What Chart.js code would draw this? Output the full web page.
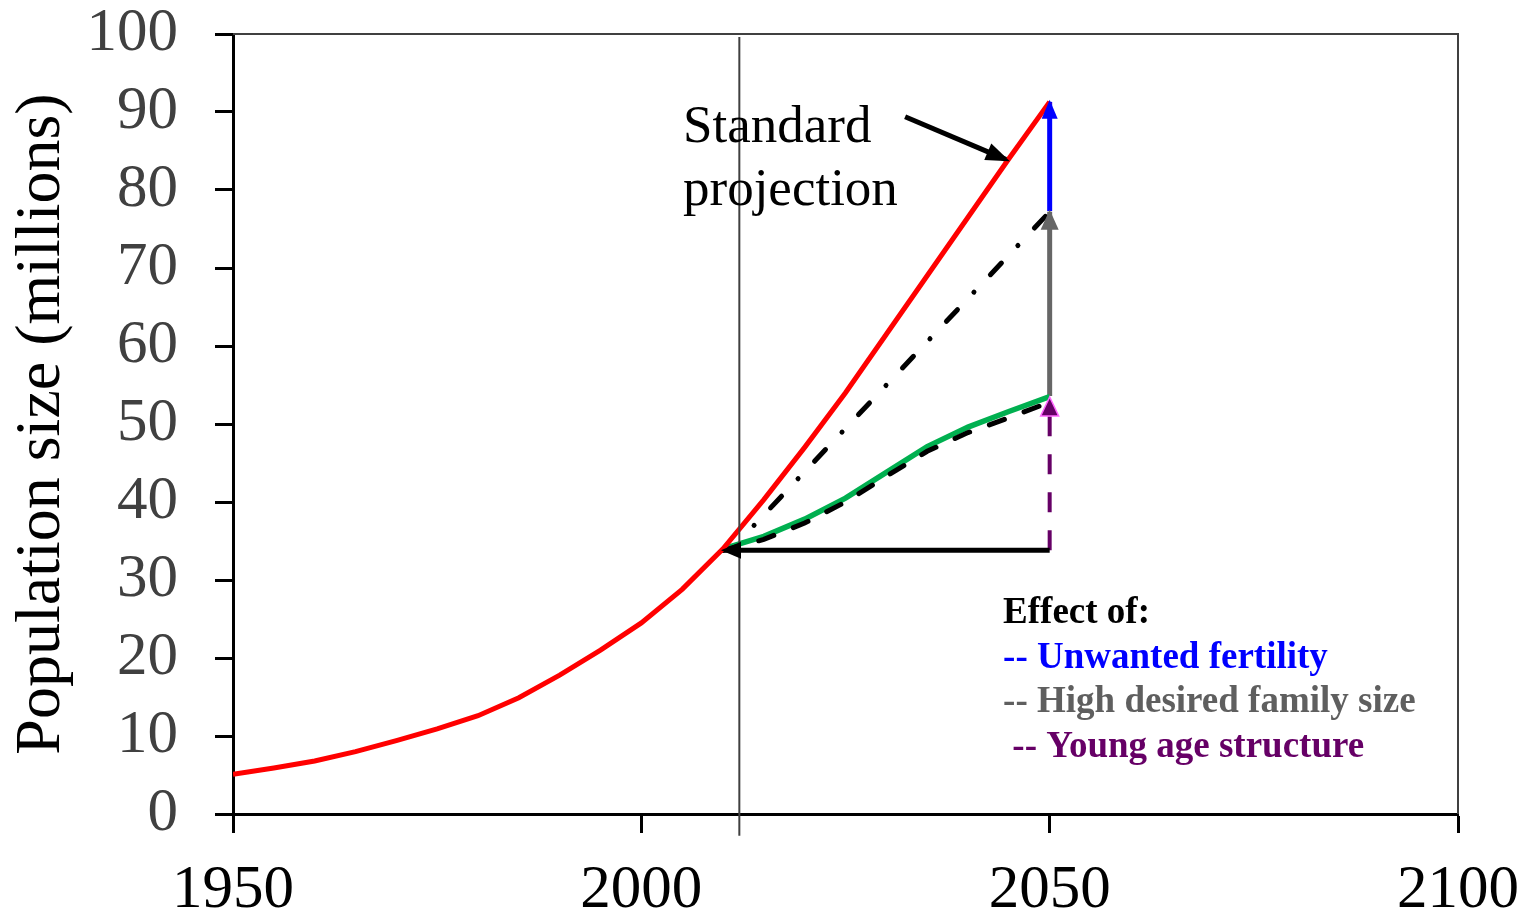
<!DOCTYPE html>
<html>
<head>
<meta charset="utf-8">
<script src="https://cdn.jsdelivr.net/npm/chart.js@4/dist/chart.umd.min.js"></script>
<style>
body { margin: 0; background: #fff; }
</style>
</head>
<body>
<canvas id="graficoPopulacao" width="1526" height="914"></canvas>
<script>
// population, millions
const years = [1950, 1955, 1960, 1965, 1970, 1975, 1980, 1985, 1990, 1995, 2000,
               2005, 2010, 2015, 2020, 2025, 2030, 2035, 2040, 2045, 2050];
const standardProjection = [5.1, 5.9, 6.8, 8.0, 9.4, 10.9, 12.6, 14.9, 17.8, 21.0, 24.5,
                            28.8, 34.0, 40.3, 47.0, 54.0, 61.5, 69.0, 76.5, 84.0, 91.3];

const projYears = [2010, 2015, 2020, 2025, 2030, 2035, 2040, 2045, 2050];
const replacementFertility = [34.0, 35.6, 37.8, 40.5, 43.8, 47.1, 49.6, 51.6, 53.5];
const momentumOnly = [33.8, 35.2, 37.3, 40.0, 43.3, 46.5, 48.9, 50.8, 52.8];

const noUnwantedYears = [2013.8, 2050];
const noUnwanted = [37.0, 77.2];

const zeroGrowthYears = [2010, 2050];
const zeroGrowth = [33.8, 33.8];

const baseYear = 2012;
const arrowYear = 2050;
const unwantedEffect = [77.3, 91.3];
const desiredEffect = [53.6, 77.2];
const ageEffect = [33.8, 53.2];

const xTicks = [1950, 2000, 2050, 2100];
const yTicks = [0, 10, 20, 30, 40, 50, 60, 70, 80, 90, 100];

const legendLines = ['Effect of:', '-- Unwanted fertility', '-- High desired family size', ' -- Young age structure'];
const legendColors = ['#000000', '#0000ff', '#5f5f5f', '#660066'];

function pares(xs, ys) {
    return xs.map((x, i) => ({ x: x, y: ys[i] }));
}

function semPadding(s) {
    s.paddingTop = 0;
    s.paddingBottom = 0;
    s.paddingLeft = 0;
    s.paddingRight = 0;
}

const setas = {
    id: 'setas',
    afterDatasetsDraw(chart) {
        const ctx = chart.ctx;
        chart.data.datasets.forEach((ds, i) => {
            if (!ds.seta) return;
            const pts = chart.getDatasetMeta(i).data;
            let a = pts[pts.length - 2], b = pts[pts.length - 1];
            if (ds.seta === 'inicio') { a = pts[1]; b = pts[0]; }
            const ang = Math.atan2(b.y - a.y, b.x - a.x);
            const len = ds.setaLen || 18, w = ds.setaLarg || 8;
            ctx.save();
            ctx.translate(b.x, b.y);
            ctx.rotate(ang);
            ctx.beginPath();
            ctx.moveTo(2, 0);
            ctx.lineTo(-len, -w);
            ctx.lineTo(-len, w);
            ctx.closePath();
            ctx.fillStyle = ds.setaCor || ds.borderColor;
            ctx.fill();
            if (ds.setaBorda) {
                ctx.strokeStyle = ds.setaBorda;
                ctx.lineWidth = 1.5;
                ctx.stroke();
            }
            ctx.restore();
        });
    }
};

const moldura = {
    id: 'moldura',
    beforeDatasetsDraw(chart) {
        const { ctx, chartArea } = chart;
        ctx.save();
        ctx.strokeStyle = '#404040';
        ctx.lineWidth = 2;
        ctx.beginPath();
        ctx.moveTo(chartArea.left, chartArea.top);
        ctx.lineTo(chartArea.right, chartArea.top);
        ctx.lineTo(chartArea.right, chartArea.bottom);
        ctx.stroke();
        ctx.restore();
    }
};

const textos = {
    id: 'textos',
    afterDraw(chart) {
        const ctx = chart.ctx, sx = chart.scales.x, sy = chart.scales.y;
        ctx.save();
        ctx.textAlign = 'left';
        ctx.textBaseline = 'alphabetic';
        ctx.fillStyle = '#000';
        ctx.font = '53px "Liberation Serif"';
        ctx.fillText('Standard', sx.getPixelForValue(2005.1), sy.getPixelForValue(86.2));
        ctx.fillText('projection', sx.getPixelForValue(2005.1), sy.getPixelForValue(78.1));

        ctx.font = 'bold 37px "Liberation Serif"';
        const base = [24.5, 18.7, 13.1, 7.3];
        legendLines.forEach((t, i) => {
            ctx.fillStyle = legendColors[i];
            ctx.fillText(t, sx.getPixelForValue(2044.3), sy.getPixelForValue(base[i]));
        });
        ctx.restore();
    }
};

new Chart(document.getElementById('graficoPopulacao'), {
    type: 'line',
    data: {
        datasets: [
            {
                data: pares([baseYear, baseYear], [-2.8, 99.6]),
                borderColor: '#404040', borderWidth: 2, clip: false
            },
            {
                data: pares(years, standardProjection),
                borderColor: '#ff0000', borderWidth: 5
            },
            {
                data: pares(projYears, momentumOnly),
                borderColor: '#000000', borderWidth: 5, borderDash: [16, 21], borderCapStyle: 'round'
            },
            {
                data: pares(projYears, replacementFertility),
                borderColor: '#00b050', borderWidth: 5.5
            },
            {
                data: pares(noUnwantedYears, noUnwanted),
                borderColor: '#000000', borderWidth: 5, borderDash: [0.1, 24, 16, 24], borderCapStyle: 'round'
            },
            {
                data: pares([2032.3, 2044.9], [89.4, 83.8]),
                borderColor: '#000000', borderWidth: 5, seta: 'fim', setaLen: 22, setaLarg: 9
            },
            {
                data: pares(zeroGrowthYears, zeroGrowth),
                borderColor: '#000000', borderWidth: 5, seta: 'inicio', setaLen: 18, setaLarg: 8.5
            },
            {
                data: pares([arrowYear, arrowYear], unwantedEffect),
                borderColor: '#0000ff', borderWidth: 5, seta: 'fim', setaLen: 17, setaLarg: 8
            },
            {
                data: pares([arrowYear, arrowYear], desiredEffect),
                borderColor: '#666666', borderWidth: 5, seta: 'fim', setaLen: 18, setaLarg: 9
            },
            {
                data: pares([arrowYear, arrowYear], ageEffect),
                borderColor: '#660066', borderWidth: 4, borderDash: [20, 18],
                seta: 'fim', setaLen: 17, setaLarg: 9, setaBorda: '#ff66ff'
            }
        ]
    },
    options: {
        responsive: false,
        animation: false,
        layout: { padding: { top: 34, right: 68, left: 0, bottom: 0 } },
        elements: { point: { radius: 0 }, line: { tension: 0 } },
        plugins: { legend: { display: false }, tooltip: { enabled: false } },
        scales: {
            x: {
                type: 'linear',
                min: 1950, max: 2100,
                afterBuildTicks: s => { s.ticks = xTicks.map(v => ({ value: v })); },
                afterFit: s => { s.height = 100; semPadding(s); },
                border: { color: '#000', width: 3 },
                grid: { drawOnChartArea: false, tickLength: 19, tickColor: '#000', tickWidth: 3 },
                ticks: {
                    color: '#000', padding: 27, maxRotation: 0,
                    callback: v => String(v),
                    font: { family: 'Liberation Serif', size: 61, lineHeight: 1 }
                }
            },
            y: {
                min: 0, max: 100,
                afterBuildTicks: s => { s.ticks = yTicks.map(v => ({ value: v })); },
                afterFit: s => { s.width = 233; semPadding(s); },
                border: { color: '#000', width: 3 },
                grid: { drawOnChartArea: false, tickLength: 18, tickColor: '#000', tickWidth: 3 },
                ticks: {
                    color: '#404040', padding: 37,
                    callback: v => String(v),
                    font: { family: 'Liberation Serif', size: 61, lineHeight: 1 }
                },
                title: {
                    display: true, text: 'Population size (millions)', color: '#000',
                    padding: { top: 10, bottom: 0 },
                    font: { family: 'Liberation Serif', size: 64, lineHeight: 1 }
                }
            }
        }
    },
    plugins: [moldura, setas, textos]
});
</script>
</body>
</html>
